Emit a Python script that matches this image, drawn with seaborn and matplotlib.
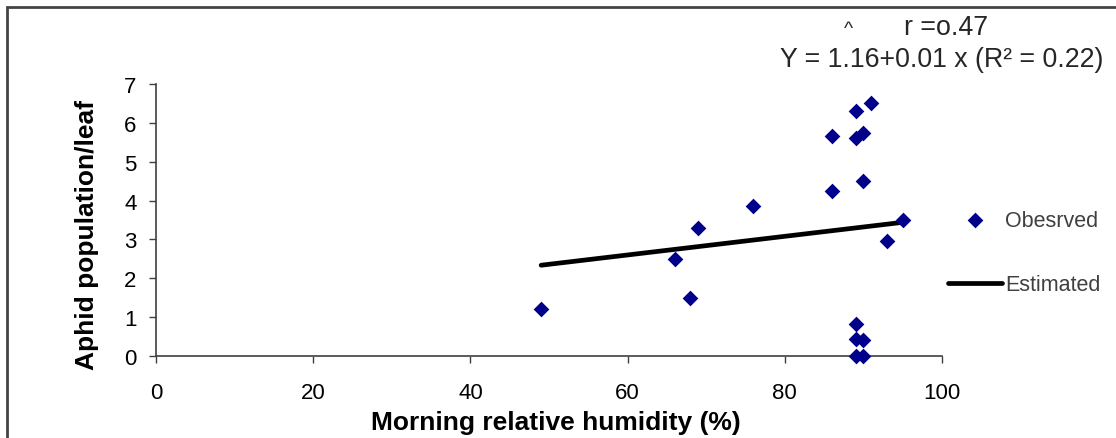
import matplotlib
matplotlib.use("Agg")
import matplotlib.pyplot as plt
import numpy as np
import seaborn as sns
from matplotlib.patches import Rectangle

# Observed aphid counts against morning relative humidity
humidity = [49, 66, 68, 69, 76, 86, 86, 89, 91, 89, 90, 90, 95, 93, 89, 89, 90, 89, 90]
aphids = [1.22, 2.5, 1.5, 3.3, 3.85, 5.65, 4.25, 6.3, 6.5, 5.6, 5.75, 4.5, 3.5, 2.95,
          0.82, 0.45, 0.4, 0.0, 0.0]

# Fitted regression line
intercept = 1.16
slope = 0.024

x_ticks = [0, 20, 40, 60, 80, 100]
y_ticks = [0, 1, 2, 3, 4, 5, 6, 7]

sns.set_theme(style="white")
plt.rcParams['font.family'] = ['Liberation Sans', 'DejaVu Sans']

fig = plt.figure(figsize=(11.16, 4.39), dpi=100)
ax = fig.add_axes([0.1398, 0.1868, 0.7043, 0.6196])

sns.scatterplot(x=humidity, y=aphids, marker='D', s=64, color='#00008b',
                edgecolor='#00008b', linewidth=0, label='Obesrved', ax=ax, zorder=3)
ax.collections[0].set_clip_on(False)

fit_x = np.array([min(humidity), max(humidity)], dtype=float)
fit_y = intercept + slope * fit_x
sns.lineplot(x=fit_x, y=fit_y, color='black', linewidth=3.4, label='Estimated', ax=ax,
             zorder=2)

ax.set_xlim(0, 100)
ax.set_ylim(0, 7)
ax.set_xticks(x_ticks)
ax.set_yticks(y_ticks)

sns.despine(ax=ax)
for side in ('left', 'bottom'):
    ax.spines[side].set_color('#404040')
    ax.spines[side].set_linewidth(1.2)

ax.tick_params(bottom=True, left=True, direction='out', length=5, width=1,
               color='#404040', labelsize=16, labelcolor='black')
ax.tick_params(axis='x', pad=14)
ax.tick_params(axis='y', pad=9)

ax.set_xlabel('Morning relative humidity (%)', fontsize=19, fontweight='bold',
              color='black')
ax.xaxis.set_label_coords(0.509, -0.198)
ax.set_ylabel('Aphid population/leaf', fontsize=19, fontweight='bold', color='black')
ax.yaxis.set_label_coords(-0.0725, 0.45)

handles, labels = ax.get_legend_handles_labels()
leg = ax.legend(handles, labels, loc='upper left',
                bbox_to_anchor=(948 / 1116, 1 - 211 / 439),
                bbox_transform=fig.transFigure, frameon=False, fontsize=15.5,
                handlelength=2.5, handletextpad=0.15, labelspacing=2.0,
                borderpad=0, borderaxespad=0)
for t in leg.get_texts():
    t.set_color('#404040')

# Regression equation
fig.text(848 / 1116, 1 - 30 / 439, '^', fontsize=14, ha='center', va='center')
fig.text(904 / 1116, 1 - 28 / 439, 'r =o.47', fontsize=19.3, ha='left', va='center')
fig.text(780 / 1116, 1 - 60 / 439, 'Y = 1.16+0.01 x (R² = 0.22)', fontsize=19.3,
         ha='left', va='center')

# Outer frame
fig.add_artist(Rectangle((6.5 / 1116, -0.2), 1.5, 1.2 - 7.5 / 439,
                         transform=fig.transFigure, fill=False, lw=2,
                         edgecolor='#444444'))

fig.savefig('out.png', dpi=100)
